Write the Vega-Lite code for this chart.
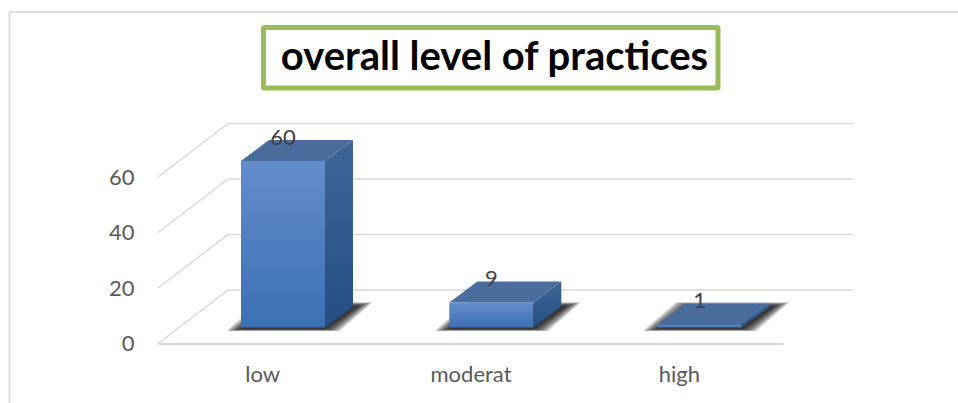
{"$schema":"https://vega.github.io/schema/vega-lite/v6.json","width":625,"height":166.5,"autosize":{"type":"none"},"padding":{"left":158,"top":177,"right":175,"bottom":59.5},"background":"white","view":{"stroke":null},"title":{"text":"overall level of practices","font":"Lato","fontSize":40,"fontWeight":"bold","color":"#000000","anchor":"middle","dx":24,"offset":-99,"baseline":"alphabetic","zindex":1},"datasets":{"bars":[{"category":"low","value":60},{"category":"moderat","value":9},{"category":"high","value":1}],"grid":[{"tick":0},{"tick":20},{"tick":40},{"tick":60}]},"data":{"name":"bars"},"layer":[{"data":{"values":[{"part":"frame"}]},"mark":{"type":"rule","color":"#dddddd","strokeWidth":2},"encoding":{"x":{"datum":-0.713,"type":"quantitative","scale":{"domain":[0,3]},"axis":{"title":null}},"x2":{"datum":3.85},"y":{"datum":119.46,"type":"quantitative","scale":{"domain":[0,60]},"axis":{"title":null}}}},{"data":{"values":[{"part":"frame"}]},"mark":{"type":"rule","color":"#dddddd","strokeWidth":2},"encoding":{"x":{"datum":-0.713,"type":"quantitative","scale":{"domain":[0,3]},"axis":{"title":null}},"y":{"datum":119.46,"type":"quantitative","scale":{"domain":[0,60]},"axis":{"title":null}},"y2":{"datum":-22}}},{"data":{"name":"grid"},"transform":[{"calculate":"datum.tick+19.28","as":"back"}],"mark":{"type":"rule","color":"#d9d9d9","strokeWidth":1.5},"encoding":{"x":{"datum":0,"type":"quantitative","scale":{"domain":[0,3]},"axis":{"title":null}},"x2":{"datum":0.336},"y":{"field":"tick","type":"quantitative","scale":{"domain":[0,60]},"axis":{"values":[0,20,40,60],"title":null,"grid":false,"ticks":false,"domain":false,"labelFont":"Lato","labelFontSize":22,"labelColor":"#595959","labelPadding":24}},"y2":{"field":"back"}}},{"data":{"name":"grid"},"transform":[{"calculate":"datum.tick+19.28","as":"back"}],"mark":{"type":"rule","color":"#d9d9d9","strokeWidth":1.5},"encoding":{"x":{"datum":0.336,"type":"quantitative","scale":{"domain":[0,3]},"axis":{"title":null}},"x2":{"datum":3.336},"y":{"field":"back","type":"quantitative","scale":{"domain":[0,60]},"axis":{"title":null}}}},{"transform":[{"calculate":"indexof(['low','moderat','high'],datum.category)","as":"i"},{"calculate":"[0,0.008,0.016,0.024,0.032,0.04,0.05,0.06,0.07]","as":"e"},{"flatten":["e"]},{"calculate":"[0,1,2,3]","as":"p"},{"flatten":["p"]},{"calculate":"datum.category+datum.e","as":"key"},{"calculate":"5.2-datum.e*10","as":"b"},{"calculate":"13.5+datum.e*20","as":"u"},{"calculate":"datum.i+[0.3984-datum.e,0.5564-datum.e,0.8016+datum.e,0.9596+datum.e][datum.p]","as":"sx"},{"calculate":"[datum.b,datum.b,datum.b,datum.u][datum.p]","as":"sy"},{"calculate":"[datum.b,datum.u,datum.u,datum.u][datum.p]","as":"sy2"}],"mark":{"type":"area","color":"#1a1a1a","opacity":0.2,"orient":"vertical","line":false},"encoding":{"x":{"field":"sx","type":"quantitative","scale":{"domain":[0,3]},"axis":{"title":null}},"y":{"field":"sy","type":"quantitative","scale":{"domain":[0,60]},"axis":{"title":null}},"y2":{"field":"sy2"},"detail":{"field":"key"}}},{"transform":[{"calculate":"indexof(['low','moderat','high'],datum.category)","as":"i"},{"calculate":"[0,1]","as":"t"},{"flatten":["t"]},{"calculate":"datum.i+0.8016+datum.t*0.1344","as":"sx"},{"calculate":"5.76+datum.value+datum.t*7.57","as":"sy"},{"calculate":"5.76+datum.t*7.57","as":"sy2"}],"mark":{"type":"area","orient":"vertical","fill":{"gradient":"linear","x1":0,"y1":0,"x2":0,"y2":1,"stops":[{"offset":0,"color":"#3f6696"},{"offset":1,"color":"#244e85"}]}},"encoding":{"x":{"field":"sx","type":"quantitative","scale":{"domain":[0,3]},"axis":{"title":null}},"y":{"field":"sy","type":"quantitative","scale":{"domain":[0,60]},"axis":{"title":null}},"y2":{"field":"sy2"},"detail":{"field":"category"}}},{"transform":[{"calculate":"indexof(['low','moderat','high'],datum.category)","as":"i"},{"calculate":"[0,1,2,3]","as":"p"},{"flatten":["p"]},{"calculate":"datum.i+[0.3984,0.5328,0.8016,0.936][datum.p]","as":"sx"},{"calculate":"5.76+datum.value+[0,0,0,7.57][datum.p]","as":"sy"},{"calculate":"5.76+datum.value+[0,7.57,7.57,7.57][datum.p]","as":"sy2"}],"mark":{"type":"area","orient":"vertical","color":"#4a6d9e"},"encoding":{"x":{"field":"sx","type":"quantitative","scale":{"domain":[0,3]},"axis":{"title":null}},"y":{"field":"sy","type":"quantitative","scale":{"domain":[0,60]},"axis":{"title":null}},"y2":{"field":"sy2"},"detail":{"field":"category"}}},{"transform":[{"calculate":"indexof(['low','moderat','high'],datum.category)","as":"i"},{"calculate":"datum.i+0.3984","as":"x0"},{"calculate":"datum.i+0.8016","as":"x1"},{"calculate":"5.76","as":"y0"},{"calculate":"5.76+datum.value","as":"y1"}],"mark":{"type":"rect","fill":{"gradient":"linear","x1":0,"y1":0,"x2":0,"y2":1,"stops":[{"offset":0,"color":"#638dcb"},{"offset":1,"color":"#3a70b5"}]}},"encoding":{"x":{"field":"x0","type":"quantitative","scale":{"domain":[0,3]},"axis":{"title":null}},"x2":{"field":"x1"},"y":{"field":"y0","type":"quantitative","scale":{"domain":[0,60]},"axis":{"title":null}},"y2":{"field":"y1"}}},{"transform":[{"calculate":"indexof(['low','moderat','high'],datum.category)","as":"i"},{"calculate":"datum.i+0.6","as":"lx"},{"calculate":"datum.value+14.2","as":"ly"}],"mark":{"type":"text","font":"Lato","fontSize":22,"color":"#404040","baseline":"middle","align":"center"},"encoding":{"x":{"field":"lx","type":"quantitative","scale":{"domain":[0,3]},"axis":{"values":[0.5,1.5,2.5],"labelExpr":"['low','moderat','high'][floor(datum.value)]","title":null,"grid":false,"ticks":false,"domainColor":"#d9d9d9","domainWidth":2,"labelFont":"Lato","labelFontSize":22,"labelColor":"#595959","labelPadding":21,"labelAngle":0,"labelOverlap":false,"labelFlush":false}},"y":{"field":"ly","type":"quantitative","scale":{"domain":[0,60]},"axis":{"title":null}},"text":{"field":"value","type":"quantitative"}}},{"data":{"values":[{"part":"title box"}]},"mark":{"type":"rect","fill":"#ffffff","stroke":"#9bbb59","strokeWidth":5,"cornerRadius":1},"encoding":{"x":{"datum":0.506,"type":"quantitative","scale":{"domain":[0,3]},"axis":{"title":null}},"x2":{"datum":2.688},"y":{"datum":92.07,"type":"quantitative","scale":{"domain":[0,60]},"axis":{"title":null}},"y2":{"datum":113.87}}}]}
